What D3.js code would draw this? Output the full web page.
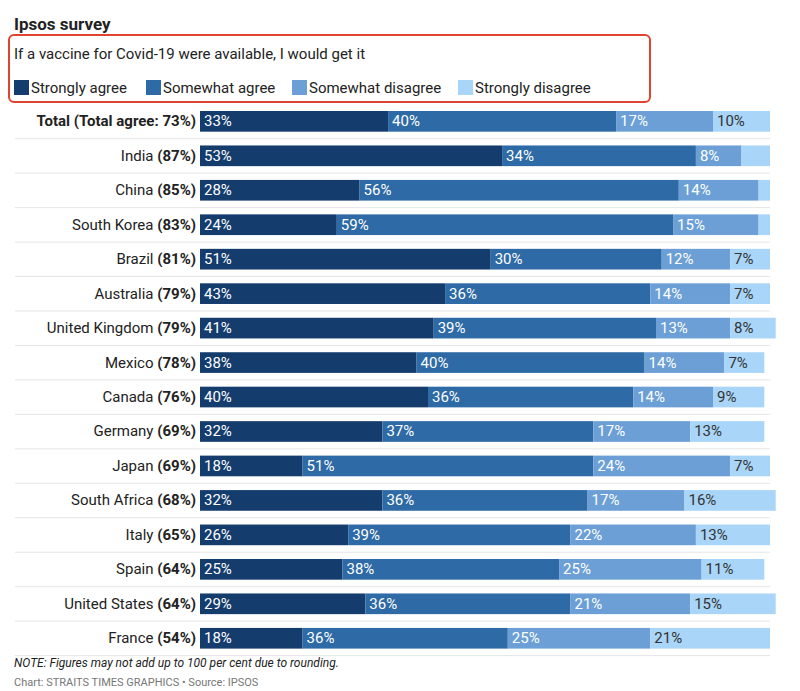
<!DOCTYPE html>
<html>
<head>
<meta charset="utf-8">
<script src="https://cdn.jsdelivr.net/npm/d3@7"></script>
<style>
  body { margin: 0; background: #fff; }
  svg { font-family: "Liberation Sans Narrow", Roboto, sans-serif; }
</style>
</head>
<body>
<div id="chart-area"></div>
<script>
const countries = ["Total", "India", "China", "South Korea", "Brazil", "Australia", "United Kingdom",
  "Mexico", "Canada", "Germany", "Japan", "South Africa", "Italy", "Spain", "United States", "France"];
const totalAgree = [73, 87, 85, 83, 81, 79, 79, 78, 76, 69, 69, 68, 65, 64, 64, 54];
const stronglyAgree = [33, 53, 28, 24, 51, 43, 41, 38, 40, 32, 18, 32, 26, 25, 29, 18];
const somewhatAgree = [40, 34, 56, 59, 30, 36, 39, 40, 36, 37, 51, 36, 39, 38, 36, 36];
const somewhatDisagree = [17, 8, 14, 15, 12, 14, 13, 14, 14, 17, 24, 17, 22, 25, 21, 25];
const stronglyDisagree = [10, 5, 2, 2, 7, 7, 8, 7, 9, 13, 7, 16, 13, 11, 15, 21];
const seriesNames = ["Strongly agree", "Somewhat agree", "Somewhat disagree", "Strongly disagree"];
const colors = ["#143d6e", "#2e6aa5", "#6b9fd6", "#a9d5f8"];
const textColors = ["#fff", "#fff", "#fff", "#333"];

const width = 800, height = 691;
const margin = { top: 111, left: 200, right: 30 };
const rowStep = 33.6;

const svg = d3.select("#chart-area").append("svg")
  .attr("width", width).attr("height", height);

const rows = countries.map((c, i) => ({
  name: c, total: totalAgree[i],
  values: [stronglyAgree[i], somewhatAgree[i], somewhatDisagree[i], stronglyDisagree[i]]
}));

const x = d3.scaleLinear().domain([0, 100]).range([margin.left, width - margin.right]);
const y = d3.scaleBand().domain(countries)
  .range([margin.top, margin.top + rowStep * countries.length]).paddingInner(0.4).paddingOuter(0);

// header
svg.append("text").attr("x", 14).attr("y", 30).attr("font-size", 17).attr("font-weight", "bold")
  .attr("fill", "#222").text("Ipsos survey");
svg.append("rect").attr("x", 9).attr("y", 35).attr("width", 641).attr("height", 67).attr("rx", 5)
  .attr("fill", "none").attr("stroke", "#e0442f").attr("stroke-width", 2);
svg.append("text").attr("x", 14).attr("y", 59).attr("font-size", 15).attr("fill", "#222")
  .text("If a vaccine for Covid-19 were available, I would get it");

const legendX = [14, 146, 292, 458];
const legend = svg.append("g").selectAll("g").data(seriesNames).join("g")
  .attr("transform", (d, i) => `translate(${legendX[i]},80)`);
legend.append("rect").attr("width", 15).attr("height", 15).attr("fill", (d, i) => colors[i]);
legend.append("text").attr("x", 17).attr("y", 13).attr("font-size", 15).attr("fill", "#222").text(d => d);

// separators
svg.append("g").selectAll("line").data(countries).join("line")
  .attr("x1", 15).attr("x2", width - margin.right)
  .attr("y1", d => y(d) + y.bandwidth() + 7).attr("y2", d => y(d) + y.bandwidth() + 7)
  .attr("stroke", "#e6e6e6");

// row labels
const lab = svg.append("g").selectAll("text").data(rows).join("text")
  .attr("x", margin.left - 4).attr("y", d => y(d.name) + y.bandwidth() / 2 + 5)
  .attr("text-anchor", "end").attr("font-size", 15).attr("fill", "#222");
lab.each(function (d, i) {
  const t = d3.select(this);
  if (i === 0) {
    t.append("tspan").attr("font-weight", "bold").text(`Total (Total agree: ${d.total}%)`);
  } else {
    t.append("tspan").text(d.name + " ");
    t.append("tspan").attr("font-weight", "bold").text(`(${d.total}%)`);
  }
});

// bars
const segs = rows.flatMap(r => {
  let acc = 0;
  return r.values.map((v, k) => {
    const s = { name: r.name, v, k, x0: acc, x1: acc + v };
    acc += v;
    return s;
  });
});

const barG = svg.append("g");
barG.selectAll("rect").data(segs).join("rect")
  .attr("x", d => x(d.x0)).attr("width", d => x(d.x1) - x(d.x0))
  .attr("y", d => y(d.name)).attr("height", y.bandwidth())
  .attr("fill", d => colors[d.k]);
barG.selectAll("text").data(segs.filter(d => d.v >= 7)).join("text")
  .attr("x", d => x(d.x0) + 4).attr("y", d => y(d.name) + y.bandwidth() / 2 + 5)
  .attr("font-size", 15).attr("fill", d => textColors[d.k]).text(d => d.v + "%");

// footer
svg.append("text").attr("x", 14).attr("y", 667).attr("font-size", 12).attr("font-style", "italic")
  .attr("fill", "#222").text("NOTE: Figures may not add up to 100 per cent due to rounding.");
svg.append("text").attr("x", 14).attr("y", 686).attr("font-size", 11).attr("fill", "#777")
  .text("Chart: STRAITS TIMES GRAPHICS \u2022 Source: IPSOS");
</script>
</body>
</html>
